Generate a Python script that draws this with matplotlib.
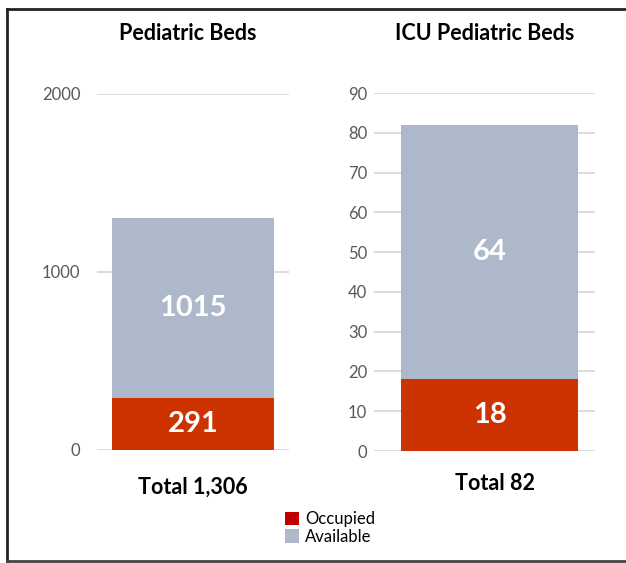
import matplotlib
matplotlib.use("Agg")
import matplotlib.pyplot as plt
from matplotlib.patches import Patch
from matplotlib.lines import Line2D

plt.rcParams['font.family'] = ['Lato', 'DejaVu Sans']

titles = ["Pediatric Beds", "ICU Pediatric Beds"]
occupied = [291, 18]
available = [1015, 64]
totals_text = ["Total 1,306", "Total 82"]
yticks = [[0, 1000, 2000], list(range(0, 91, 10))]
ylims = [2000, 90]

occ_color = "#CC3300"
avail_color = "#ADB9CA"
legend_red = "#C00000"
grid_color = "#D9D9D9"
tick_color = "#595959"

W, H = 626, 563
fig = plt.figure(figsize=(W / 100, H / 100), dpi=100)

def px_axes(x0, x1, ytop, ybot):
    return fig.add_axes([x0 / W, (H - ybot) / H, (x1 - x0) / W, (ybot - ytop) / H])

axes_specs = [(97, 289, 94, 450, 0.844, 0.0, 12), (374, 595, 93, 451, 0.80, 0.023, 5)]
title_x = [188, 485]
title_y = 33
total_x = [193, 495]
total_y = [487, 483]

for i, (x0, x1, yt, yb, bw, off, pad) in enumerate(axes_specs):
    ax = px_axes(x0, x1, yt, yb)
    ax.bar([off], [occupied[i]], width=bw, color=occ_color, zorder=3)
    ax.bar([off], [available[i]], bottom=[occupied[i]], width=bw, color=avail_color, zorder=3)
    ax.set_xlim(-0.5, 0.5)
    ax.set_ylim(0, ylims[i])
    ax.set_yticks(yticks[i])
    ax.set_xticks([])
    for s in ax.spines.values():
        s.set_visible(False)
    ax.yaxis.grid(True, color=grid_color, linewidth=1.3, zorder=0)
    ax.tick_params(axis='y', length=0, labelsize=12, labelcolor=tick_color, pad=pad)
    ax.text(off, occupied[i] / 2, str(occupied[i]), ha='center', va='center',
            color='white', fontsize=21, fontweight='bold', zorder=4)
    ax.text(off, occupied[i] + available[i] / 2, str(available[i]), ha='center', va='center',
            color='white', fontsize=21, fontweight='bold', zorder=4)
    fig.text(title_x[i] / W, 1 - title_y / H, titles[i], ha='center', va='center',
             fontsize=15.5, fontweight='bold', color='black')
    fig.text(total_x[i] / W, 1 - total_y[i] / H, totals_text[i], ha='center', va='center',
             fontsize=15.5, fontweight='bold', color='black')

handles = [Patch(facecolor=legend_red, edgecolor='none', label='Occupied'),
           Patch(facecolor=avail_color, edgecolor='none', label='Available')]
fig.legend(handles=handles, loc='center', bbox_to_anchor=(330 / W, 1 - 528 / H),
           frameon=False, fontsize=12, handlelength=0.85, handleheight=0.85,
           handletextpad=0.4, labelspacing=0.1, borderpad=0)

# figure frame (left, top, bottom)
fig.add_artist(Line2D([7 / W, 7 / W], [1 - 9 / H, 1 - 561 / H], color='#222222', linewidth=2, transform=fig.transFigure))
fig.add_artist(Line2D([7 / W, 1.0], [1 - 9 / H, 1 - 9 / H], color='#222222', linewidth=2, transform=fig.transFigure))
fig.add_artist(Line2D([7 / W, 1.0], [1 - 561 / H, 1 - 561 / H], color='#444444', linewidth=2, transform=fig.transFigure))

fig.savefig("out.png", dpi=100)
